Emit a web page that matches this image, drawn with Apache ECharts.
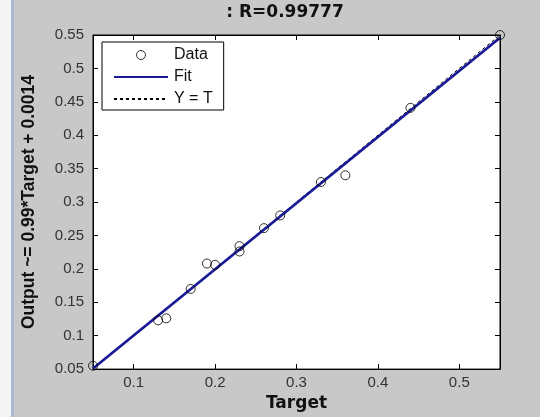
<!DOCTYPE html>
<html>
<head>
<meta charset="utf-8">
<script src="https://cdn.jsdelivr.net/npm/echarts@6/dist/echarts.min.js"></script>
<style>html,body{margin:0;padding:0;background:#c8c8c8;}#c{width:540px;height:417px;}</style>
</head>
<body>
<div id="c"></div>
<script>
const targets = [0.05, 0.13, 0.14, 0.17, 0.19, 0.20, 0.23, 0.23, 0.26, 0.28, 0.33, 0.36, 0.44, 0.55];
const outputs = [0.055, 0.123, 0.126, 0.170, 0.208, 0.206, 0.234, 0.226, 0.261, 0.280, 0.330, 0.340, 0.441, 0.550];
const fitSlope = 0.99, fitIntercept = 0.0014;
const lineEnds = [0.05, 0.55];
const xTicks = [0.1, 0.2, 0.3, 0.4, 0.5];
const yTicks = [0.05, 0.1, 0.15, 0.2, 0.25, 0.3, 0.35, 0.4, 0.45, 0.5, 0.55];
const titleText = ': R=0.99777';
const xName = 'Target';
const yName = 'Output ~= 0.99*Target + 0.0014';

const chart = echarts.init(document.getElementById('c'));
const font = 'Liberation Sans, Arial, sans-serif';
const wideBold = 'DejaVu Sans, sans-serif';
const tickStyle = {inside: true, length: 5, lineStyle: {color: '#000', width: 1}};
const axisLine = {show: true, onZero: false, lineStyle: {color: '#000', width: 1}};
chart.setOption({
  backgroundColor: '#c8c8c8',
  animation: false,
  graphic: [
    {type: 'rect', shape: {x: 0, y: 0, width: 11, height: 417}, style: {fill: '#f4f4f4'}, z: -10},
    {type: 'rect', shape: {x: 11, y: 0, width: 3, height: 417}, style: {fill: '#a9b9cf'}, z: -10},
    {type: 'text', x: 285, y: 13, style: {text: titleText, font: 'bold 17px ' + wideBold, fill: '#111', align: 'center', verticalAlign: 'middle'}}
  ],
  grid: {left: 93, right: 40, top: 35, bottom: 44, show: true, backgroundColor: '#fff', borderColor: '#000', borderWidth: 1},
  legend: {
    orient: 'vertical', left: 102, top: 42,
    backgroundColor: '#fff', borderColor: '#000', borderWidth: 1,
    padding: [5, 11, 3, 11], itemGap: 6, itemWidth: 54, itemHeight: 9,
    textStyle: {fontSize: 16, fontFamily: font, color: '#111', padding: [0, 0, 0, 1]},
    data: [
      {name: 'Data', icon: 'circle', itemStyle: {color: 'transparent', borderColor: '#000', borderWidth: 1}},
      {name: 'Fit', itemStyle: {opacity: 0}},
      {name: 'Y = T', itemStyle: {opacity: 0}}
    ]
  },
  xAxis: [
    {type: 'value', min: 0.05, max: 0.55, position: 'bottom',
     name: xName, nameLocation: 'middle', nameGap: 23,
     nameTextStyle: {fontWeight: 'bold', fontSize: 17, fontFamily: wideBold, color: '#111'},
     axisLine: axisLine, splitLine: {show: false},
     axisTick: Object.assign({customValues: xTicks}, tickStyle),
     axisLabel: {customValues: xTicks, fontSize: 15, fontFamily: font, color: '#333', margin: 6}},
    {type: 'value', min: 0.05, max: 0.55, position: 'top',
     axisLine: axisLine, splitLine: {show: false},
     axisTick: Object.assign({customValues: xTicks}, tickStyle),
     axisLabel: {show: false}}
  ],
  yAxis: [
    {type: 'value', min: 0.05, max: 0.55, position: 'left',
     name: yName, nameLocation: 'middle', nameGap: 55, nameRotate: 90,
     nameTextStyle: {fontWeight: 'bold', fontSize: 17.5, fontFamily: font, color: '#111'},
     axisLine: axisLine, splitLine: {show: false},
     axisTick: Object.assign({customValues: yTicks}, tickStyle),
     axisLabel: {customValues: yTicks, fontSize: 15, fontFamily: font, color: '#333', margin: 9}},
    {type: 'value', min: 0.05, max: 0.55, position: 'right',
     axisLine: axisLine, splitLine: {show: false},
     axisTick: Object.assign({customValues: yTicks}, tickStyle),
     axisLabel: {show: false}}
  ],
  series: [
    {name: 'Data', type: 'scatter', symbol: 'circle', symbolSize: 9,
     itemStyle: {color: 'transparent', borderColor: '#000', borderWidth: 1},
     data: targets.map((t, i) => [t, outputs[i]]), z: 5},
    {name: 'Fit', type: 'line', symbol: 'none', lineStyle: {color: '#1a1a96', width: 2.8},
     data: lineEnds.map(t => [t, fitSlope * t + fitIntercept]), z: 3},
    {name: 'Y = T', type: 'line', symbol: 'none', lineStyle: {color: '#000', width: 1, type: [3, 3]},
     data: lineEnds.map(t => [t, t]), z: 2}
  ]
});
</script>
</body>
</html>
